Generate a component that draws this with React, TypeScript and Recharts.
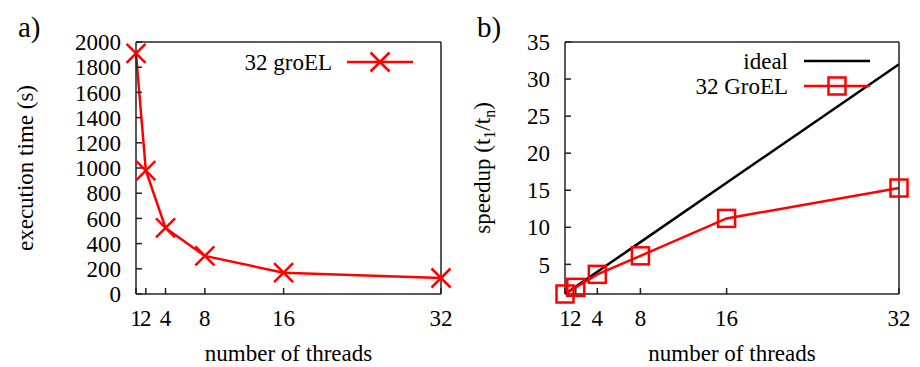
import { LineChart, Line, XAxis, YAxis, Legend, Label } from 'recharts';

const threads = [1, 2, 4, 8, 16, 32];
const execTime = [1910, 980, 524, 302, 169, 127];
const speedup = [1, 1.9, 3.65, 6.15, 11.2, 15.3];
const ideal = [1, 2, 4, 8, 16, 32];
const timeTicks = [0, 200, 400, 600, 800, 1000, 1200, 1400, 1600, 1800, 2000];
const speedTicks = [5, 10, 15, 20, 25, 30, 35];

const timeData = threads.map((t, i) => ({ threads: t, time: execTime[i] }));
const speedData = threads.map((t, i) => ({ threads: t, ideal: ideal[i], speedup: speedup[i] }));

const FONT = '"Liberation Serif", "Times New Roman", serif';
const FS = 23;
const RED = '#ff0000';
const tickStyle = { fontFamily: FONT, fontSize: FS, fill: '#000' };
const axisStroke = { stroke: '#222', strokeWidth: 1.5 };

const crossPath = (cx: number, cy: number, r = 9.5) =>
  `M${cx - r},${cy - r}L${cx + r},${cy + r}M${cx - r},${cy + r}L${cx + r},${cy - r}`;

const renderCross = (p: any) => (
  <path key={`c${p.index}`} d={crossPath(p.cx, p.cy)} stroke={RED} strokeWidth={2.5} fill="none" />
);

const renderSquare = (p: any) => (
  <rect key={`s${p.index}`} x={p.cx - 8.5} y={p.cy - 8.5} width={17} height={17} stroke={RED} strokeWidth={2.5} fill="none" />
);

function TimeLegend() {
  return (
    <svg width={460} height={100} style={{ overflow: 'visible' }}>
      <text x={332} y={70} textAnchor="end" fontFamily={FONT} fontSize={FS}>32 groEL</text>
      <line x1={347} x2={413} y1={62} y2={62} stroke={RED} strokeWidth={2.5} />
      <path d={crossPath(380, 62)} stroke={RED} strokeWidth={2.5} fill="none" />
    </svg>
  );
}

function SpeedLegend() {
  return (
    <svg width={460} height={100} style={{ overflow: 'visible' }}>
      <text x={328} y={69} textAnchor="end" fontFamily={FONT} fontSize={FS}>ideal</text>
      <line x1={344} x2={410} y1={61} y2={61} stroke="#000" strokeWidth={2.5} />
      <text x={328} y={94} textAnchor="end" fontFamily={FONT} fontSize={FS}>32 GroEL</text>
      <line x1={344} x2={410} y1={86} y2={86} stroke={RED} strokeWidth={2.5} />
      <rect x={377 - 8.5} y={86 - 8.5} width={17} height={17} stroke={RED} strokeWidth={2.5} fill="none" />
    </svg>
  );
}

const legendWrap = { left: 0, top: 0, width: 460, height: 100 };

function TimeChart() {
  return (
    <LineChart width={460} height={367} data={timeData} margin={{ top: 41, right: 18, left: 0, bottom: 0 }}>
      <XAxis dataKey="threads" type="number" domain={[1, 32]} ticks={threads} interval={0}
        height={73} tickSize={-6} tickMargin={22} tick={tickStyle} axisLine={axisStroke} tickLine={axisStroke}>
        <Label value="number of threads" position="insideBottom" offset={6}
          style={{ fontFamily: FONT, fontSize: FS, fill: '#000' }} />
      </XAxis>
      <XAxis xAxisId="top" orientation="top" dataKey="threads" type="number" domain={[1, 32]} ticks={threads}
        interval={0} height={1} tickSize={-6} tick={false} axisLine={axisStroke} tickLine={axisStroke} />
      <YAxis type="number" domain={[0, 2000]} ticks={timeTicks} interval={0} width={136}
        tickSize={-6} tickMargin={21} tick={tickStyle} axisLine={axisStroke} tickLine={axisStroke}>
        <Label value="execution time (s)" angle={-90} position="insideLeft" offset={25}
          style={{ fontFamily: FONT, fontSize: FS, fill: '#000', textAnchor: 'middle' }} />
      </YAxis>
      <YAxis yAxisId="r" orientation="right" type="number" domain={[0, 2000]} ticks={timeTicks} interval={0}
        width={1} tickSize={-6} tick={false} axisLine={axisStroke} tickLine={axisStroke} />
      <Line dataKey="time" stroke={RED} strokeWidth={2.5} dot={renderCross} isAnimationActive={false} />
      <Line dataKey="time" xAxisId="top" yAxisId="r" stroke="none" dot={false} legendType="none" isAnimationActive={false} />
      <Legend layout="vertical" verticalAlign="middle" align="center" wrapperStyle={legendWrap} content={() => <TimeLegend />} />
    </LineChart>
  );
}

function SpeedLabel() {
  return (
    <text transform="translate(30,168) rotate(-90)" textAnchor="middle" fontFamily={FONT} fontSize={FS} fill="#000">
      speedup (t<tspan fontSize={16} dy={5}>1</tspan><tspan dy={-5}>/t</tspan>
      <tspan fontSize={16} dy={5}>n</tspan><tspan dy={-5}>)</tspan>
    </text>
  );
}

function SpeedChart() {
  return (
    <LineChart width={460} height={367} data={speedData} margin={{ top: 41, right: 20, left: 0, bottom: 0 }}>
      <XAxis dataKey="threads" type="number" domain={[1, 32]} ticks={threads} interval={0}
        height={73} tickSize={-6} tickMargin={22} tick={tickStyle} axisLine={axisStroke} tickLine={axisStroke}>
        <Label value="number of threads" position="insideBottom" offset={6}
          style={{ fontFamily: FONT, fontSize: FS, fill: '#000' }} />
      </XAxis>
      <XAxis xAxisId="top" orientation="top" dataKey="threads" type="number" domain={[1, 32]} ticks={threads}
        interval={0} height={1} tickSize={-6} tick={false} axisLine={axisStroke} tickLine={axisStroke} />
      <YAxis type="number" domain={[1, 35]} ticks={speedTicks} interval={0} width={105}
        tickSize={-6} tickMargin={21} tick={tickStyle} axisLine={axisStroke} tickLine={axisStroke}>
        <Label content={() => <SpeedLabel />} />
      </YAxis>
      <YAxis yAxisId="r" orientation="right" type="number" domain={[1, 35]} ticks={speedTicks} interval={0}
        width={1} tickSize={-6} tick={false} axisLine={axisStroke} tickLine={axisStroke} />
      <Line dataKey="ideal" stroke="#000" strokeWidth={2.5} dot={false} isAnimationActive={false} />
      <Line dataKey="speedup" stroke={RED} strokeWidth={2.5} dot={renderSquare} isAnimationActive={false} />
      <Line dataKey="ideal" xAxisId="top" yAxisId="r" stroke="none" dot={false} legendType="none" isAnimationActive={false} />
      <Legend layout="vertical" verticalAlign="middle" align="center" wrapperStyle={legendWrap} content={() => <SpeedLegend />} />
    </LineChart>
  );
}

export default function App() {
  return (
    <div style={{ position: 'absolute', left: 0, top: 0, width: 920, height: 367, background: '#fff' }}>
      <div style={{ position: 'absolute', left: 0, top: 0 }}>
        <TimeChart />
      </div>
      <div style={{ position: 'absolute', left: 460, top: 0 }}>
        <SpeedChart />
      </div>
      <svg width={920} height={367} style={{ position: 'absolute', left: 0, top: 0, pointerEvents: 'none' }}>
        <text x={18} y={37} fontFamily={FONT} fontSize={29} fill="#000">a)</text>
        <text x={477} y={37} fontFamily={FONT} fontSize={29} fill="#000">b)</text>
      </svg>
    </div>
  );
}
